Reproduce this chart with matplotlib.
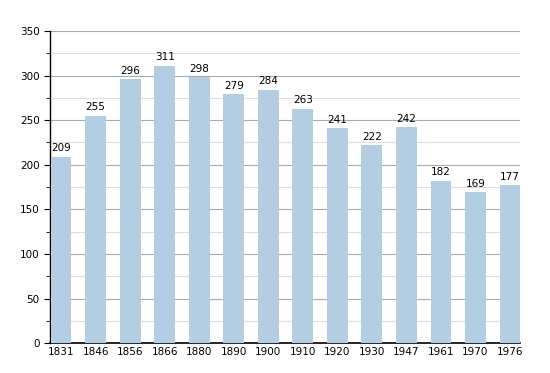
#!/usr/bin/env python3
import matplotlib
matplotlib.use("Agg")
import matplotlib.pyplot as plt
from matplotlib.ticker import MultipleLocator

YEARS = ["1831", "1846", "1856", "1866", "1880", "1890", "1900",
         "1910", "1920", "1930", "1947", "1961", "1970", "1976"]
POPULATION = [209, 255, 296, 311, 298, 279, 284, 263, 241, 222, 242, 182, 169, 177]


def main():
    fig = plt.figure(figsize=(5.5, 3.73), dpi=100)
    ax = fig.add_axes([0.091, 0.080, 0.855, 0.837])

    x = range(len(YEARS))
    ax.bar(x, POPULATION, width=0.6, color="#b3cde3", zorder=3)
    for xi, v in zip(x, POPULATION):
        ax.text(xi, v + 4, str(v), ha="center", va="bottom", fontsize=7.5, zorder=4)

    ax.set_xlim(-0.32, len(YEARS) - 0.7)
    ax.set_ylim(0, 350)
    ax.set_xticks(list(x))
    ax.set_xticklabels(YEARS, fontsize=7.5)
    ax.yaxis.set_major_locator(MultipleLocator(50))
    ax.yaxis.set_minor_locator(MultipleLocator(25))
    ax.tick_params(axis="y", labelsize=7.5, length=4, color="black")
    ax.tick_params(axis="y", which="minor", length=3)
    ax.tick_params(axis="x", length=0, pad=3)

    ax.grid(axis="y", which="major", color="#aaaaaa", linewidth=0.8, zorder=0)
    ax.grid(axis="y", which="minor", color="#dddddd", linewidth=0.8, zorder=0)

    for s in ["top", "right"]:
        ax.spines[s].set_visible(False)
    ax.spines["left"].set_linewidth(1)
    ax.spines["bottom"].set_linewidth(1.2)

    fig.savefig("out.png", dpi=100)


if __name__ == '__main__':
    main()
